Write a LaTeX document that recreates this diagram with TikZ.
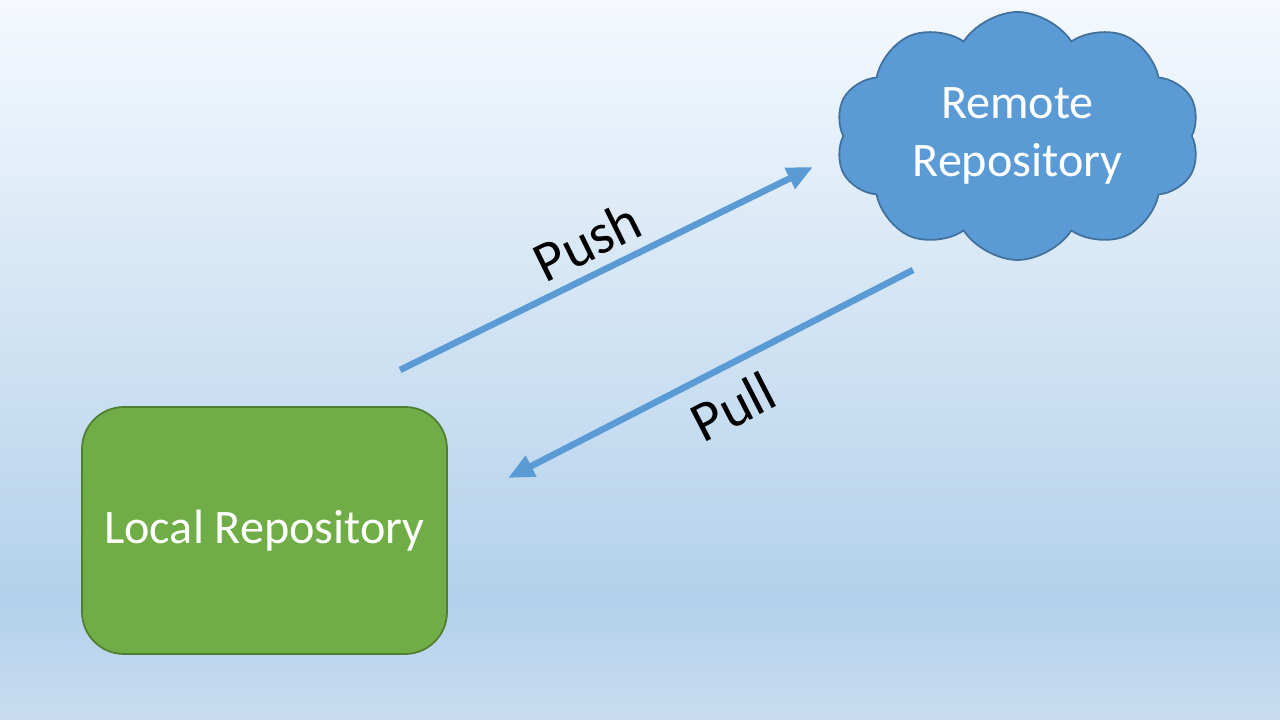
\documentclass[tikz,border=0pt]{standalone}
\usepackage{fontspec}
\setmainfont{Carlito}
\usepackage{xcolor}
\usetikzlibrary{
    shapes.symbols,
    arrows.meta,
    positioning
}
\definecolor{officeblue}{RGB}{91, 155, 213}
\definecolor{officeblueline}{RGB}{65, 113, 156}
\definecolor{officegreen}{RGB}{112, 173, 71}
\definecolor{officegreenline}{RGB}{80, 126, 50}
\definecolor{bgtop}{RGB}{245, 249, 254}
\definecolor{bgmid}{RGB}{179, 209, 235}
\definecolor{bgbot}{RGB}{200, 220, 240}

\begin{document}
\begin{tikzpicture}[
        repo/.style={draw=officegreenline, fill=officegreen, rounded corners=0.42cm, minimum width=3.65cm, minimum height=2.47cm, align=center, text=white, line width=0.5pt},
        cloudbox/.style={cloud, cloud puffs=10, cloud puff arc=115, cloud ignores aspect, draw=officeblueline, fill=officeblue, minimum width=3.65cm, minimum height=2.48cm, inner sep=0pt, align=center, text=white, line width=0.5pt},
        arrow/.style={-{Triangle[length=0.26cm, width=0.22cm]}, draw=officeblue, line width=0.065cm},
        lbl/.style={font=\fontsize{16.2}{19.4}\selectfont, text=black}
    ]
        \useasboundingbox (0,0) rectangle (12.8,7.2);

        % Background
        \shade[top color=bgtop, bottom color=bgmid] (0,1.2) rectangle (12.8,7.2);
        \shade[top color=bgmid, bottom color=bgbot] (0,0) rectangle (12.8,1.2);

        % Local side
        \node[repo, font=\fontsize{13.7}{16.4}\selectfont] (local) at (2.645, 1.895) {Local Repository};

        % Remote side
        \node[cloudbox, font=\fontsize{13.7}{16.4}\selectfont] (remote) at (10.175, 5.84) {Remote\\Repository};

        % Arrow ends
        \coordinate (pushstart) at (4.00, 3.50);
        \coordinate (pushend) at (8.13, 5.53);
        \coordinate (pullstart) at (9.13, 4.50);
        \coordinate (pullend) at (5.08, 2.42);

        % Arrows
        \draw[arrow] (pushstart) -- (pushend);
        \draw[arrow] (pullstart) -- (pullend);

        % Labels
        \node[lbl, rotate=26.2] (pushlbl) at (5.87, 4.79) {Push};
        \node[lbl, rotate=27.2] (pulllbl) at (7.33, 3.13) {Pull};
    \end{tikzpicture}
\end{document}
